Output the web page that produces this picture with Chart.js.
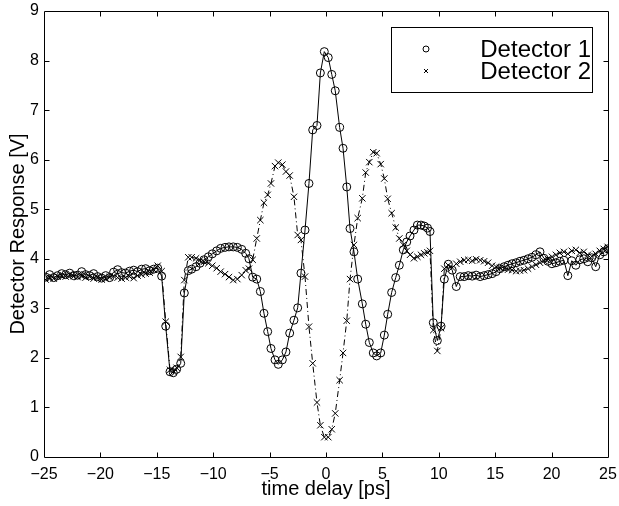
<!DOCTYPE html>
<html>
<head>
<meta charset="utf-8">
<script src="https://cdn.jsdelivr.net/npm/chart.js@4.4.0/dist/chart.umd.min.js"></script>
<style>
  html, body { margin: 0; padding: 0; background: #fff; }
  canvas { display: block; }
</style>
</head>
<body>
<canvas id="chart" width="619" height="506"></canvas>
<script>
// sample times [ps], shared by both detectors
const time = [
  -24.85, -24.50, -24.14, -23.79, -23.43, -23.08, -22.72, -22.37, -22.02, -21.66,
  -21.31, -20.95, -20.60, -20.24, -19.89, -19.53, -19.18, -18.83, -18.47, -18.12,
  -17.76, -17.41, -17.05, -16.70, -16.34, -15.99, -15.63, -15.28, -14.92,
  -14.57, -14.21, -13.83, -13.54, -13.24, -12.88, -12.56, -12.21, -11.91, -11.52,
  -11.17, -10.82, -10.43, -10.08, -9.69, -9.34, -8.95, -8.60, -8.22, -7.86,
  -7.47, -7.12, -6.83, -6.50, -6.14, -5.82, -5.50, -5.17, -4.88, -4.52,
  -4.23, -3.87, -3.55, -3.22, -2.84, -2.51, -2.22, -1.86, -1.51, -1.18,
  -0.80, -0.50, -0.15, 0.20, 0.51, 0.82, 1.21, 1.51, 1.84, 2.13,
  2.48, 2.81, 3.22, 3.52, 3.84, 4.19, 4.49, 4.85, 5.17, 5.47,
  5.82, 6.18, 6.50, 6.85, 7.16, 7.45, 7.80, 8.10, 8.42, 8.71,
  9.00, 9.22, 9.51, 9.87, 10.20, 10.49, 10.84,
  11.19, 11.55, 11.90, 12.25, 12.61, 12.96, 13.31, 13.67, 14.02, 14.37,
  14.73, 15.08, 15.43, 15.79, 16.14, 16.49, 16.85, 17.20, 17.55, 17.91,
  18.26, 18.61, 18.97, 19.32, 19.67, 20.03, 20.38, 20.73, 21.09, 21.44,
  21.79, 22.15, 22.50, 22.85, 23.21, 23.56, 23.91, 24.27, 24.62, 24.97
];

const detector1 = [
  3.63, 3.68, 3.62, 3.66, 3.70, 3.68, 3.71, 3.66, 3.67, 3.74,
  3.68, 3.66, 3.70, 3.64, 3.61, 3.66, 3.62, 3.73, 3.78, 3.72,
  3.71, 3.75, 3.77, 3.74, 3.79, 3.80, 3.76, 3.79, 3.81,
  3.65, 2.64, 1.72, 1.70, 1.77, 1.89, 3.31, 3.76, 3.79, 3.84,
  3.91, 3.98, 4.04, 4.10, 4.16, 4.21, 4.23, 4.24, 4.24, 4.23,
  4.19, 4.11, 4.00, 3.63, 3.59, 3.34, 2.90, 2.53, 2.19, 1.96,
  1.87, 1.96, 2.12, 2.50, 2.76, 3.01, 3.71, 4.58, 5.52, 6.60,
  6.69, 7.75, 8.18, 8.06, 7.72, 7.39, 6.65, 6.23, 5.45, 4.61,
  4.14, 3.59, 3.09, 2.68, 2.31, 2.10, 2.04, 2.10, 2.46, 2.88,
  3.32, 3.62, 3.87, 4.18, 4.34, 4.46, 4.58, 4.68, 4.68, 4.66,
  4.62, 4.55, 2.71, 2.35, 2.64, 3.59, 3.89,
  3.77, 3.44, 3.64, 3.64, 3.66, 3.65, 3.67, 3.64, 3.66, 3.68,
  3.70, 3.74, 3.80, 3.84, 3.87, 3.90, 3.92, 3.95, 3.97, 4.00,
  4.03, 4.08, 4.14, 4.01, 3.95, 3.90, 3.92, 3.95, 3.97, 3.66,
  3.96, 3.87, 3.98, 4.00, 3.94, 4.02, 3.84, 4.08, 4.14, 4.20
];

const detector2 = [
  3.58, 3.62, 3.60, 3.64, 3.66, 3.64, 3.68, 3.65, 3.63, 3.66,
  3.62, 3.64, 3.60, 3.62, 3.58, 3.60, 3.63, 3.65, 3.62, 3.60,
  3.62, 3.64, 3.61, 3.66, 3.68, 3.70, 3.72, 3.78, 3.86,
  3.75, 2.73, 1.76, 1.72, 1.80, 2.02, 3.57, 4.03, 4.03, 4.01,
  3.97, 3.94, 3.91, 3.86, 3.81, 3.74, 3.69, 3.63, 3.57, 3.59,
  3.67, 3.77, 3.80, 3.98, 4.41, 4.78, 5.13, 5.29, 5.52, 5.87,
  5.94, 5.90, 5.76, 5.68, 5.25, 4.48, 4.38, 3.64, 2.63, 1.89,
  1.10, 0.64, 0.40, 0.40, 0.56, 0.88, 1.55, 2.10, 2.75, 3.59,
  4.28, 4.82, 5.22, 5.74, 5.95, 6.15, 6.13, 5.91, 5.62, 5.21,
  4.92, 4.63, 4.41, 4.28, 4.16, 4.08, 4.01, 4.04, 4.08, 4.11,
  4.13, 4.16, 2.56, 2.14, 2.60, 3.80, 3.87,
  3.82, 3.90, 3.94, 3.97, 3.98, 3.96, 3.99, 3.97, 3.95, 3.92,
  3.86, 3.84, 3.82, 3.80, 3.78, 3.77, 3.75, 3.76, 3.77, 3.80,
  3.84, 3.88, 3.92, 3.96, 4.00, 4.04, 4.08, 4.12, 4.14, 4.10,
  4.16, 4.18, 4.12, 4.14, 4.08, 4.05, 4.10, 4.16, 4.20, 4.24
];

const xTicks = [-25, -20, -15, -10, -5, 0, 5, 10, 15, 20, 25];
const yTicks = [0, 1, 2, 3, 4, 5, 6, 7, 8, 9];
const seriesNames = ['Detector 1', 'Detector 2'];

const FONT = '"Liberation Sans", Arial, Helvetica, sans-serif';

function toPoints(values) {
  return time.map((t, i) => ({ x: t, y: values[i] }));
}

// box around the plot with inward ticks on all four sides
const framePlugin = {
  id: 'frame',
  afterDatasetsDraw(chart) {
    const { ctx, chartArea: a, scales: { x, y } } = chart;
    const L = Math.floor(a.left) + 0.5, R = Math.floor(a.right) + 0.5;
    const T = Math.floor(a.top) + 0.5, B = Math.floor(a.bottom) + 0.5;
    ctx.save();
    ctx.strokeStyle = '#000';
    ctx.lineWidth = 1;
    ctx.beginPath();
    ctx.rect(L, T, R - L, B - T);
    xTicks.slice(1, -1).forEach(v => {
      const px = Math.round(x.getPixelForValue(v)) + 0.5;
      ctx.moveTo(px, B); ctx.lineTo(px, B - 5);
      ctx.moveTo(px, T); ctx.lineTo(px, T + 5);
    });
    yTicks.slice(1, -1).forEach(v => {
      const py = Math.round(y.getPixelForValue(v)) + 0.5;
      ctx.moveTo(L, py); ctx.lineTo(L + 5, py);
      ctx.moveTo(R, py); ctx.lineTo(R - 5, py);
    });
    ctx.stroke();
    ctx.restore();
  }
};

// matlab style legend box in the upper right
const legendPlugin = {
  id: 'boxLegend',
  afterDraw(chart) {
    const { ctx } = chart;
    const box = { x: 391.5, y: 27.5, w: 201, h: 65 };
    ctx.save();
    ctx.fillStyle = '#fff';
    ctx.fillRect(box.x, box.y, box.w, box.h);
    ctx.strokeStyle = '#000';
    ctx.lineWidth = 1;
    ctx.strokeRect(box.x, box.y, box.w, box.h);

    const rows = [49, 71];
    ctx.beginPath();
    ctx.arc(426, rows[0], 3, 0, Math.PI * 2);
    ctx.moveTo(424, rows[1] - 2); ctx.lineTo(428, rows[1] + 2);
    ctx.moveTo(424, rows[1] + 2); ctx.lineTo(428, rows[1] - 2);
    ctx.stroke();

    ctx.fillStyle = '#000';
    ctx.font = '24px ' + FONT;
    ctx.textAlign = 'right';
    ctx.textBaseline = 'middle';
    seriesNames.forEach((name, i) => ctx.fillText(name, 591, rows[i] + 1));
    ctx.restore();
  }
};

const minus = v => String(v).replace('-', '\u2212');

new Chart(document.getElementById('chart'), {
  type: 'scatter',
  data: {
    datasets: [
      {
        label: seriesNames[0],
        data: toPoints(detector1),
        showLine: true,
        borderColor: '#000',
        borderWidth: 1,
        pointStyle: 'circle',
        pointRadius: 4,
        pointBorderWidth: 1,
        pointBorderColor: '#000',
        pointBackgroundColor: 'rgba(0,0,0,0)',
        tension: 0
      },
      {
        label: seriesNames[1],
        data: toPoints(detector2),
        showLine: true,
        borderColor: '#000',
        borderWidth: 1,
        borderDash: [6, 3, 1, 3],
        pointStyle: 'crossRot',
        pointRadius: 4.5,
        pointBorderWidth: 1,
        pointBorderColor: '#000',
        pointBackgroundColor: 'rgba(0,0,0,0)',
        tension: 0
      }
    ]
  },
  options: {
    responsive: false,
    animation: false,
    events: [],
    layout: { padding: { top: 11, right: 11, left: 0, bottom: 0 } },
    plugins: {
      legend: { display: false },
      tooltip: { enabled: false }
    },
    scales: {
      x: {
        type: 'linear',
        min: -25,
        max: 25,
        afterBuildTicks: s => { s.ticks = xTicks.map(v => ({ value: v })); },
        afterFit: s => {
          s.height = 49;
          s.paddingLeft = 0;
          s.paddingRight = 0;
        },
        grid: { display: false, drawTicks: false },
        border: { display: false },
        ticks: {
          color: '#000',
          padding: 8,
          maxRotation: 0,
          autoSkip: false,
          font: { family: FONT, size: 16 },
          callback: minus
        },
        title: {
          display: true,
          text: 'time delay [ps]',
          color: '#000',
          font: { family: FONT, size: 20 },
          padding: { top: 0, bottom: 5 }
        }
      },
      y: {
        type: 'linear',
        min: 0,
        max: 9,
        afterBuildTicks: s => { s.ticks = yTicks.map(v => ({ value: v })); },
        afterFit: s => {
          s.width = 44;
          s.paddingTop = 0;
          s.paddingBottom = 0;
        },
        grid: { display: false, drawTicks: false },
        border: { display: false },
        ticks: {
          color: '#000',
          padding: 5,
          autoSkip: false,
          font: { family: FONT, size: 16 },
          callback: minus
        },
        title: {
          display: true,
          text: 'Detector Response [V]',
          color: '#000',
          font: { family: FONT, size: 20 },
          padding: { top: 6, bottom: 0 }
        }
      }
    }
  },
  plugins: [framePlugin, legendPlugin]
});
</script>
</body>
</html>
